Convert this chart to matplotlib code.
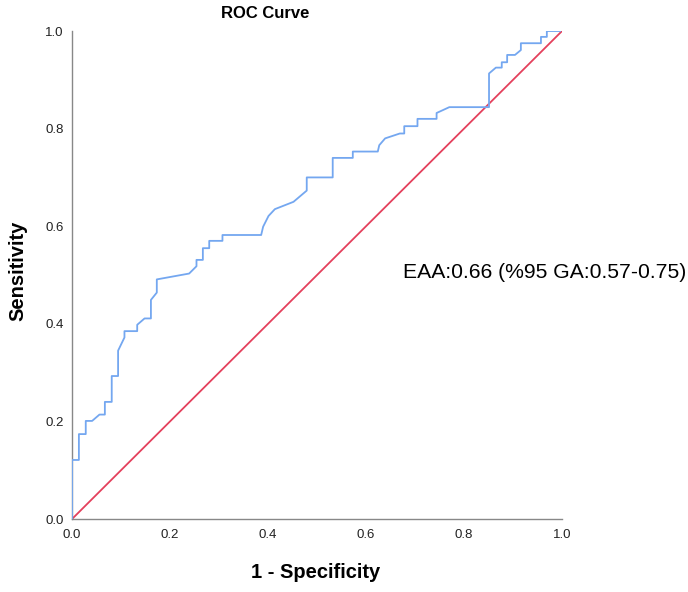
import matplotlib
matplotlib.use("Agg")
import matplotlib.pyplot as plt

plt.rcParams['font.family'] = ['Liberation Sans', 'DejaVu Sans']

# ROC curve points (1 - specificity, sensitivity)
fpr = [0.0, 0.0, 0.014, 0.014, 0.028, 0.028, 0.041, 0.056, 0.067, 0.067, 0.081, 0.081,
       0.094, 0.094, 0.107, 0.107, 0.133, 0.133, 0.148, 0.161, 0.161, 0.173, 0.173,
       0.239, 0.254, 0.254, 0.267, 0.267, 0.280, 0.280, 0.307, 0.307, 0.386, 0.390,
       0.401, 0.414, 0.452, 0.479, 0.479, 0.532, 0.532, 0.573, 0.573, 0.624, 0.627,
       0.639, 0.669, 0.678, 0.678, 0.705, 0.705, 0.744, 0.744, 0.770, 0.851, 0.851,
       0.865, 0.877, 0.877, 0.888, 0.888, 0.904, 0.916, 0.916, 0.957, 0.957, 0.969,
       0.969, 0.996]
tpr = [0.0, 0.121, 0.121, 0.174, 0.174, 0.201, 0.201, 0.214, 0.214, 0.240, 0.240, 0.293,
       0.293, 0.345, 0.372, 0.385, 0.385, 0.398, 0.411, 0.411, 0.449, 0.464, 0.491,
       0.503, 0.518, 0.531, 0.531, 0.555, 0.555, 0.570, 0.570, 0.582, 0.582, 0.599,
       0.621, 0.635, 0.650, 0.673, 0.700, 0.700, 0.740, 0.740, 0.753, 0.753, 0.766,
       0.780, 0.790, 0.790, 0.805, 0.805, 0.820, 0.820, 0.832, 0.844, 0.844, 0.913,
       0.925, 0.925, 0.936, 0.936, 0.951, 0.951, 0.961, 0.975, 0.975, 0.988, 0.988,
       1.0, 1.0]
ref_line = [0.0, 1.0]
ticks = [0.0, 0.2, 0.4, 0.6, 0.8, 1.0]
auc_text = "EAA:0.66 (%95 GA:0.57-0.75)"

fig = plt.figure(figsize=(6.88, 5.92), dpi=100)
ax = fig.add_axes([0.1047, 0.1233, 0.7122, 0.8243])

ax.plot(fpr, tpr, color='#74a7f0', lw=1.3, zorder=3)
ax.plot(ref_line, ref_line, color='#e4405c', lw=1.3, zorder=2)

ax.set_xlim(0, 1)
ax.set_ylim(0, 1)
ax.set_xticks(ticks)
ax.set_yticks(ticks)
ax.set_xticklabels(['%.1f' % t for t in ticks])
ax.set_yticklabels(['%.1f' % t for t in ticks])
ax.tick_params(length=0, labelsize=9.5, colors='#222222')
ax.tick_params(axis='x', pad=7)
ax.tick_params(axis='y', pad=6)

for side in ['top', 'right']:
    ax.spines[side].set_visible(False)
for side in ['left', 'bottom']:
    ax.spines[side].set_color('#888888')
    ax.spines[side].set_linewidth(1.0)

# title and axis labels placed where the reference has them
fig.text(265 / 688, 1 - 14 / 592, 'ROC Curve', fontsize=12, fontweight='bold',
         ha='center', va='center')
fig.text(316 / 688, 1 - 572 / 592, '1 - Specificity', fontsize=14.5, fontweight='bold',
         ha='center', va='center')
fig.text(18 / 688, 1 - 271 / 592, 'Sensitivity', fontsize=14.5, fontweight='bold',
         ha='center', va='center', rotation=90)

fig.text(403 / 688, 1 - 272 / 592, auc_text, fontsize=15.2, va='center', ha='left')

fig.savefig('out.png', dpi=100)
